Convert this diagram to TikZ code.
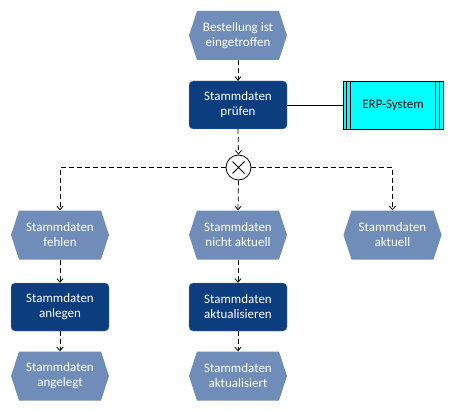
\documentclass[tikz,border=0pt]{standalone}
\usepackage{fontspec}
\setmainfont{Carlito}
\usetikzlibrary{arrows.meta}
\definecolor{evfill}{HTML}{6F8DB8}
\definecolor{fnfill}{HTML}{0B3D7F}
\definecolor{sysfill}{HTML}{00FFFF}
\tikzset{
  x=1pt, y=-1pt,
  txt/.style={text=white, font=\fontsize{13}{15}\selectfont, align=center, inner sep=0pt},
  event/.style={txt, minimum width=98pt, minimum height=49pt,
    path picture={\fill[evfill]
      ([xshift=8pt]path picture bounding box.north west) --
      ([xshift=-8pt]path picture bounding box.north east) --
      (path picture bounding box.east) --
      ([xshift=-8pt]path picture bounding box.south east) --
      ([xshift=8pt]path picture bounding box.south west) --
      (path picture bounding box.west) -- cycle;}},
  func/.style={txt, fill=fnfill, draw=fnfill!60!white, line width=0.4pt, rounded corners=4pt,
    minimum width=98pt, minimum height=48pt},
  sysbox/.style={draw=black, fill=sysfill, line width=0.8pt, minimum width=100pt, minimum height=48pt,
    font=\fontsize{13}{15}\selectfont, inner sep=0pt},
  xorgate/.style={circle, draw=black, fill=white, line width=0.8pt, minimum size=25pt, inner sep=0pt},
  flow/.style={draw=black, line width=0.8pt, dash pattern=on 5pt off 3pt,
    -{Straight Barb[length=3.5pt,width=6pt]}},
}
\begin{document}
\begin{tikzpicture}
\useasboundingbox (0,0) rectangle (453,412);
\node[event] (e1) at (238,35.5) {Bestellung ist\\eingetroffen};
\node[func] (f1) at (238,105) {Stammdaten\\prüfen};
\node[sysbox] (erp) at (393,105) {ERP-System};
\draw[line width=0.8pt] ([xshift=4pt]erp.north west) -- ([xshift=4pt]erp.south west);
\draw[line width=0.8pt] ([xshift=8pt]erp.north west) -- ([xshift=8pt]erp.south west);
\draw[line width=0.8pt] ([xshift=-4pt]erp.north east) -- ([xshift=-4pt]erp.south east);
\draw[line width=0.8pt] ([xshift=-8pt]erp.north east) -- ([xshift=-8pt]erp.south east);
\node[xorgate] (x) at (238.5,167.5) {};
\draw[line width=0.8pt] ([shift={(-6pt,6pt)}]x.center) -- ([shift={(6pt,-6pt)}]x.center)
  ([shift={(-6pt,-6pt)}]x.center) -- ([shift={(6pt,6pt)}]x.center);
\node[event] (e2) at (60,235) {Stammdaten\\fehlen};
\node[event] (e3) at (238,235) {Stammdaten\\nicht aktuell};
\node[event] (e4) at (392.5,235) {Stammdaten\\aktuell};
\node[func] (f2) at (60,307) {Stammdaten\\anlegen};
\node[func] (f3) at (238,307) {Stammdaten\\aktualisieren};
\node[event] (e5) at (60,376) {Stammdaten\\angelegt};
\node[event] (e6) at (238,376) {Stammdaten\\aktualisiert};

\draw[line width=0.8pt] (f1.east) -- (erp.west);
\draw[flow] (e1.south) -- (f1.north);
\draw[flow] (f1.south) -- (x.north);
\draw[flow] (x.west) -| (e2.north);
\draw[flow] (x.south) -- (e3.north);
\draw[flow] (x.east) -| (e4.north);
\draw[flow] (e2.south) -- (f2.north);
\draw[flow] (f2.south) -- (e5.north);
\draw[flow] (e3.south) -- (f3.north);
\draw[flow] (f3.south) -- (e6.north);
\end{tikzpicture}
\end{document}
